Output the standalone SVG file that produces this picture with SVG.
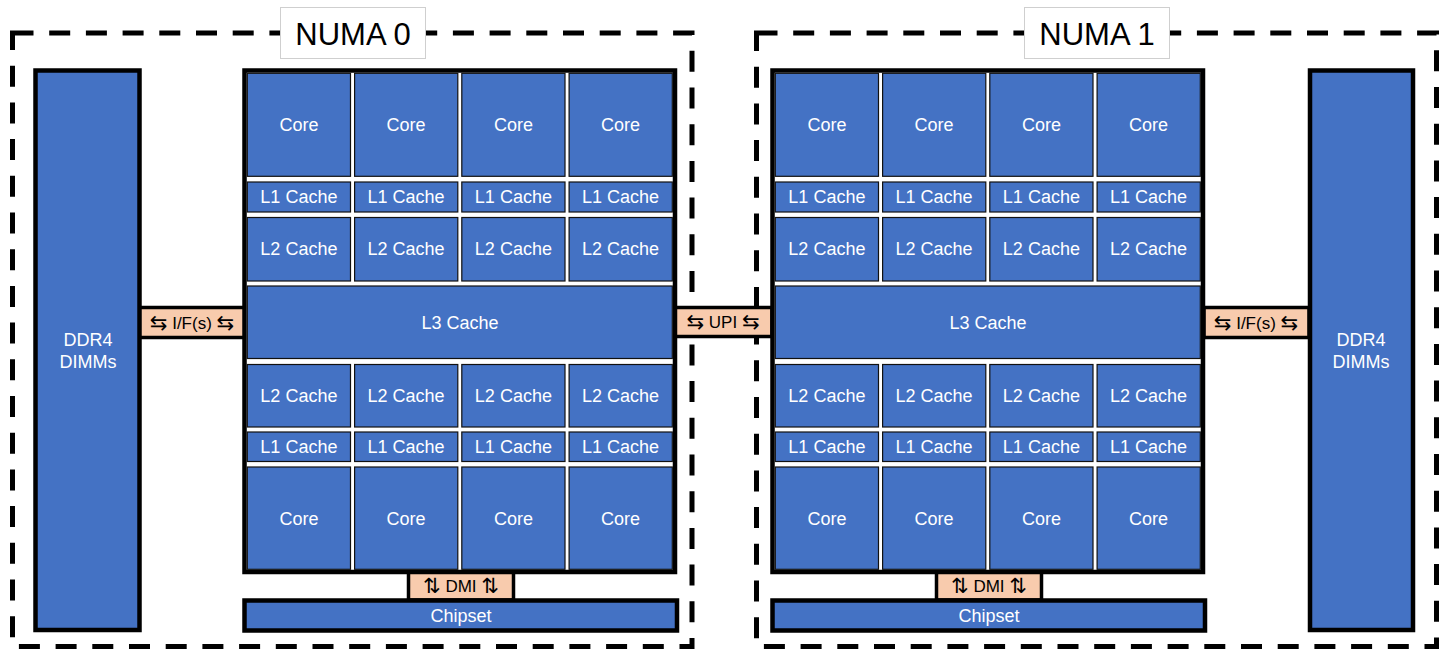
<svg xmlns="http://www.w3.org/2000/svg" width="1439" height="650" viewBox="0 0 1439 650">
<style>
.numa{fill:none;stroke:#000;stroke-width:5;stroke-dasharray:21 15.7}
.lbl{fill:#fff;stroke:#cfcfcf;stroke-width:1}
.lbltxt{font-family:"Liberation Sans","DejaVu Sans",sans-serif;font-size:31px;fill:#000;text-anchor:middle}
.big{fill:#4472C4;stroke:#000;stroke-width:4.5}
.proc{fill:#fff;stroke:#000;stroke-width:4.5}
.cell{fill:#4472C4;stroke:#111;stroke-width:1.2}
.t{font-family:"Liberation Sans","DejaVu Sans",sans-serif;font-size:18px;fill:#fff;text-anchor:middle;dominant-baseline:central}
.link{fill:#F8CBAD;stroke:#000;stroke-width:3.5}
.lt{font-family:"Liberation Sans","DejaVu Sans",sans-serif;font-size:17px;fill:#000;text-anchor:middle;dominant-baseline:central}
.ar{font-family:"DejaVu Sans",sans-serif;font-size:21px}
</style>

<g id="numa0">
<rect class="numa" x="12.5" y="33" width="679.5" height="613.5"/>
<rect class="lbl" x="280.5" y="7.5" width="145" height="51"/>
<text class="lbltxt" x="353" y="45">NUMA 0</text>
</g>
<g id="numa1">
<rect class="numa" x="756.5" y="33" width="680" height="613.5"/>
<rect class="lbl" x="1024.5" y="7.5" width="145" height="51"/>
<text class="lbltxt" x="1097" y="45">NUMA 1</text>
</g>

<g id="connectors">
<g id="if0"><rect class="link" x="139" y="307.5" width="106" height="30"/><text class="lt" x="192" y="323"><tspan class="ar">⇆</tspan> I/F(s) <tspan class="ar">⇆</tspan></text></g>
<g id="upi"><rect class="link" x="674" y="307.5" width="98" height="29"/><text class="lt" x="723" y="322"><tspan class="ar">⇆</tspan> UPI <tspan class="ar">⇆</tspan></text></g>
<g id="if1"><rect class="link" x="1204" y="307.5" width="105" height="30"/><text class="lt" x="1256" y="323"><tspan class="ar">⇆</tspan> I/F(s) <tspan class="ar">⇆</tspan></text></g>
<g id="dmi0"><rect class="link" x="408.5" y="572" width="105" height="28"/><text class="lt" x="461" y="586"><tspan class="ar">⇅</tspan> DMI <tspan class="ar">⇅</tspan></text></g>
<g id="dmi1"><rect class="link" x="936.5" y="572" width="105" height="28"/><text class="lt" x="989" y="586"><tspan class="ar">⇅</tspan> DMI <tspan class="ar">⇅</tspan></text></g>
</g>

<g id="ddr4-0"><rect class="big" x="35.5" y="70.5" width="104" height="559.5"/><text class="t" x="88" y="340">DDR4</text><text class="t" x="88" y="362">DIMMs</text></g>
<g id="ddr4-1"><rect class="big" x="1310" y="70.5" width="103" height="559.5"/><text class="t" x="1361" y="340">DDR4</text><text class="t" x="1361" y="362">DIMMs</text></g>

<g id="chipset0"><rect class="big" x="244.5" y="600.5" width="432.5" height="30"/><text class="t" x="461" y="616">Chipset</text></g>
<g id="chipset1"><rect class="big" x="772.5" y="600.5" width="432.5" height="30"/><text class="t" x="989" y="616">Chipset</text></g>

<g id="cpu0">
<rect class="proc" x="244.5" y="70.5" width="430.5" height="501.5"/>
<g id="cpu0-core1"><rect class="cell" x="247.3" y="73.3" width="103.2" height="103"/><text class="t" x="298.9" y="125">Core</text></g>
<g id="cpu0-core2"><rect class="cell" x="354.6" y="73.3" width="103.2" height="103"/><text class="t" x="406.1" y="125">Core</text></g>
<g id="cpu0-core3"><rect class="cell" x="461.8" y="73.3" width="103.2" height="103"/><text class="t" x="513.4" y="125">Core</text></g>
<g id="cpu0-core4"><rect class="cell" x="569.1" y="73.3" width="103.2" height="103"/><text class="t" x="620.6" y="125">Core</text></g>
<g id="cpu0-l1a"><rect class="cell" x="247.3" y="182" width="103.2" height="30"/><text class="t" x="298.9" y="197">L1 Cache</text></g>
<g id="cpu0-l1b"><rect class="cell" x="354.6" y="182" width="103.2" height="30"/><text class="t" x="406.1" y="197">L1 Cache</text></g>
<g id="cpu0-l1c"><rect class="cell" x="461.8" y="182" width="103.2" height="30"/><text class="t" x="513.4" y="197">L1 Cache</text></g>
<g id="cpu0-l1d"><rect class="cell" x="569.1" y="182" width="103.2" height="30"/><text class="t" x="620.6" y="197">L1 Cache</text></g>
<g id="cpu0-l2a"><rect class="cell" x="247.3" y="217.5" width="103.2" height="63.5"/><text class="t" x="298.9" y="249">L2 Cache</text></g>
<g id="cpu0-l2b"><rect class="cell" x="354.6" y="217.5" width="103.2" height="63.5"/><text class="t" x="406.1" y="249">L2 Cache</text></g>
<g id="cpu0-l2c"><rect class="cell" x="461.8" y="217.5" width="103.2" height="63.5"/><text class="t" x="513.4" y="249">L2 Cache</text></g>
<g id="cpu0-l2d"><rect class="cell" x="569.1" y="217.5" width="103.2" height="63.5"/><text class="t" x="620.6" y="249">L2 Cache</text></g>
<g id="cpu0-l3"><rect class="cell" x="247.3" y="286" width="425" height="72.5"/><text class="t" x="460" y="322.5">L3 Cache</text></g>
<g id="cpu0-l2e"><rect class="cell" x="247.3" y="364.5" width="103.2" height="62.5"/><text class="t" x="298.9" y="396">L2 Cache</text></g>
<g id="cpu0-l2f"><rect class="cell" x="354.6" y="364.5" width="103.2" height="62.5"/><text class="t" x="406.1" y="396">L2 Cache</text></g>
<g id="cpu0-l2g"><rect class="cell" x="461.8" y="364.5" width="103.2" height="62.5"/><text class="t" x="513.4" y="396">L2 Cache</text></g>
<g id="cpu0-l2h"><rect class="cell" x="569.1" y="364.5" width="103.2" height="62.5"/><text class="t" x="620.6" y="396">L2 Cache</text></g>
<g id="cpu0-l1e"><rect class="cell" x="247.3" y="432" width="103.2" height="29.5"/><text class="t" x="298.9" y="447">L1 Cache</text></g>
<g id="cpu0-l1f"><rect class="cell" x="354.6" y="432" width="103.2" height="29.5"/><text class="t" x="406.1" y="447">L1 Cache</text></g>
<g id="cpu0-l1g"><rect class="cell" x="461.8" y="432" width="103.2" height="29.5"/><text class="t" x="513.4" y="447">L1 Cache</text></g>
<g id="cpu0-l1h"><rect class="cell" x="569.1" y="432" width="103.2" height="29.5"/><text class="t" x="620.6" y="447">L1 Cache</text></g>
<g id="cpu0-core5"><rect class="cell" x="247.3" y="467" width="103.2" height="102.3"/><text class="t" x="298.9" y="519">Core</text></g>
<g id="cpu0-core6"><rect class="cell" x="354.6" y="467" width="103.2" height="102.3"/><text class="t" x="406.1" y="519">Core</text></g>
<g id="cpu0-core7"><rect class="cell" x="461.8" y="467" width="103.2" height="102.3"/><text class="t" x="513.4" y="519">Core</text></g>
<g id="cpu0-core8"><rect class="cell" x="569.1" y="467" width="103.2" height="102.3"/><text class="t" x="620.6" y="519">Core</text></g>
</g>

<g id="cpu1" transform="translate(528,0)">
<rect class="proc" x="244.5" y="70.5" width="430.5" height="501.5"/>
<g id="cpu1-core1"><rect class="cell" x="247.3" y="73.3" width="103.2" height="103"/><text class="t" x="298.9" y="125">Core</text></g>
<g id="cpu1-core2"><rect class="cell" x="354.6" y="73.3" width="103.2" height="103"/><text class="t" x="406.1" y="125">Core</text></g>
<g id="cpu1-core3"><rect class="cell" x="461.8" y="73.3" width="103.2" height="103"/><text class="t" x="513.4" y="125">Core</text></g>
<g id="cpu1-core4"><rect class="cell" x="569.1" y="73.3" width="103.2" height="103"/><text class="t" x="620.6" y="125">Core</text></g>
<g id="cpu1-l1a"><rect class="cell" x="247.3" y="182" width="103.2" height="30"/><text class="t" x="298.9" y="197">L1 Cache</text></g>
<g id="cpu1-l1b"><rect class="cell" x="354.6" y="182" width="103.2" height="30"/><text class="t" x="406.1" y="197">L1 Cache</text></g>
<g id="cpu1-l1c"><rect class="cell" x="461.8" y="182" width="103.2" height="30"/><text class="t" x="513.4" y="197">L1 Cache</text></g>
<g id="cpu1-l1d"><rect class="cell" x="569.1" y="182" width="103.2" height="30"/><text class="t" x="620.6" y="197">L1 Cache</text></g>
<g id="cpu1-l2a"><rect class="cell" x="247.3" y="217.5" width="103.2" height="63.5"/><text class="t" x="298.9" y="249">L2 Cache</text></g>
<g id="cpu1-l2b"><rect class="cell" x="354.6" y="217.5" width="103.2" height="63.5"/><text class="t" x="406.1" y="249">L2 Cache</text></g>
<g id="cpu1-l2c"><rect class="cell" x="461.8" y="217.5" width="103.2" height="63.5"/><text class="t" x="513.4" y="249">L2 Cache</text></g>
<g id="cpu1-l2d"><rect class="cell" x="569.1" y="217.5" width="103.2" height="63.5"/><text class="t" x="620.6" y="249">L2 Cache</text></g>
<g id="cpu1-l3"><rect class="cell" x="247.3" y="286" width="425" height="72.5"/><text class="t" x="460" y="322.5">L3 Cache</text></g>
<g id="cpu1-l2e"><rect class="cell" x="247.3" y="364.5" width="103.2" height="62.5"/><text class="t" x="298.9" y="396">L2 Cache</text></g>
<g id="cpu1-l2f"><rect class="cell" x="354.6" y="364.5" width="103.2" height="62.5"/><text class="t" x="406.1" y="396">L2 Cache</text></g>
<g id="cpu1-l2g"><rect class="cell" x="461.8" y="364.5" width="103.2" height="62.5"/><text class="t" x="513.4" y="396">L2 Cache</text></g>
<g id="cpu1-l2h"><rect class="cell" x="569.1" y="364.5" width="103.2" height="62.5"/><text class="t" x="620.6" y="396">L2 Cache</text></g>
<g id="cpu1-l1e"><rect class="cell" x="247.3" y="432" width="103.2" height="29.5"/><text class="t" x="298.9" y="447">L1 Cache</text></g>
<g id="cpu1-l1f"><rect class="cell" x="354.6" y="432" width="103.2" height="29.5"/><text class="t" x="406.1" y="447">L1 Cache</text></g>
<g id="cpu1-l1g"><rect class="cell" x="461.8" y="432" width="103.2" height="29.5"/><text class="t" x="513.4" y="447">L1 Cache</text></g>
<g id="cpu1-l1h"><rect class="cell" x="569.1" y="432" width="103.2" height="29.5"/><text class="t" x="620.6" y="447">L1 Cache</text></g>
<g id="cpu1-core5"><rect class="cell" x="247.3" y="467" width="103.2" height="102.3"/><text class="t" x="298.9" y="519">Core</text></g>
<g id="cpu1-core6"><rect class="cell" x="354.6" y="467" width="103.2" height="102.3"/><text class="t" x="406.1" y="519">Core</text></g>
<g id="cpu1-core7"><rect class="cell" x="461.8" y="467" width="103.2" height="102.3"/><text class="t" x="513.4" y="519">Core</text></g>
<g id="cpu1-core8"><rect class="cell" x="569.1" y="467" width="103.2" height="102.3"/><text class="t" x="620.6" y="519">Core</text></g>
</g>
</svg>
